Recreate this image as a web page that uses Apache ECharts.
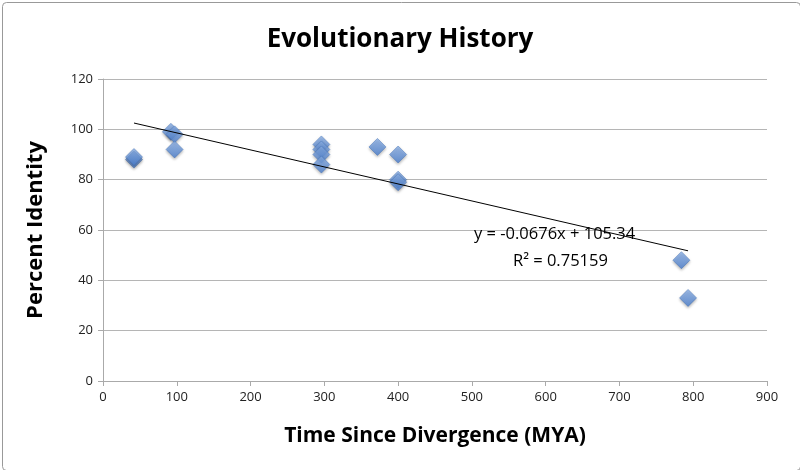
<!DOCTYPE html>
<html><head><meta charset="utf-8">
<script src="https://cdn.jsdelivr.net/npm/echarts@6/dist/echarts.min.js"></script>
<style>html,body{margin:0;padding:0;background:#fff}#c{width:800px;height:470px}</style>
</head><body><div id="c"></div>
<script>
var timeMYA = [42, 42, 92, 97, 97, 296, 296, 296, 296, 372, 400, 400, 400, 784, 793];
var percentIdentity = [88, 89, 99, 98, 92, 94, 92, 90, 86, 93, 90, 80, 79, 48, 33];
var trendSlope = -0.0676, trendIntercept = 105.34, rSquared = 0.75159;
var xTicks = [0, 100, 200, 300, 400, 500, 600, 700, 800, 900];
var yTicks = [0, 20, 40, 60, 80, 100, 120];

var pts = timeMYA.map(function(x, i){ return [x, percentIdentity[i]]; });
var xmin = Math.min.apply(null, timeMYA), xmax = Math.max.apply(null, timeMYA);
var trend = [[xmin, trendSlope*xmin + trendIntercept], [xmax, trendSlope*xmax + trendIntercept]];
var FONT = '"Open Sans", "Liberation Sans", sans-serif';
var chart = echarts.init(document.getElementById('c'), null, {renderer:'canvas'});
chart.setOption({
  animation:false,
  title:{text:'Evolutionary History', left:'center', top:22,
    textStyle:{fontFamily:FONT, fontSize:26, fontWeight:'bold', color:'#000'}},
  grid:{left:103, right:33, top:79, bottom:89},
  xAxis:{type:'value', min:0, max:900, interval:100,
    name:'Time Since Divergence (MYA)', nameLocation:'middle', nameGap:45,
    nameTextStyle:{fontFamily:FONT, fontSize:21, fontWeight:'bold', color:'#000'},
    axisLine:{show:true, lineStyle:{color:'#aaa', width:1}},
    axisTick:{show:true, length:5, lineStyle:{color:'#aaa'}},
    axisLabel:{fontFamily:FONT, fontSize:13, color:'#222', margin:10,
      formatter:function(v){ return xTicks.indexOf(v)>=0 ? String(v) : ''; }},
    splitLine:{show:false}},
  yAxis:{type:'value', min:0, max:120, interval:20,
    name:'Percent Identity', nameLocation:'middle', nameGap:56, nameRotate:90,
    nameTextStyle:{fontFamily:FONT, fontSize:22, fontWeight:'bold', color:'#000'},
    axisLine:{show:true, lineStyle:{color:'#aaa', width:1}},
    axisTick:{show:true, length:5, lineStyle:{color:'#aaa'}},
    axisLabel:{fontFamily:FONT, fontSize:13, color:'#222', margin:10,
      formatter:function(v){ return yTicks.indexOf(v)>=0 ? String(v) : ''; }},
    splitLine:{show:true, lineStyle:{color:'#b5b5b5', width:1}}},
  series:[
    {type:'line', data:trend, symbol:'none', silent:true, z:3,
     lineStyle:{color:'#000', width:1}},
    {type:'scatter', data:pts, symbol:'diamond', symbolSize:[17,17], z:2,
     itemStyle:{
       color:new echarts.graphic.LinearGradient(0,0,0,1,[{offset:0,color:'#8fb4ea'},{offset:1,color:'#4a7fd0'}]),
       borderColor:'#3f6fb8', borderWidth:0.6,
       shadowColor:'rgba(0,0,0,0.35)', shadowBlur:3, shadowOffsetY:1.5}}
  ],
  graphic:[
    {type:'rect', left:0, top:0, shape:{x:0.5,y:0.5,width:798,height:468, r:4}, style:{fill:'none', stroke:'#999', lineWidth:1}, silent:true},
    {type:'text', left:474, top:226, z:10, style:{text:'y = -0.0676x + 105.34', fontFamily:FONT, fontSize:16.5, fill:'#000'}},
    {type:'text', left:513, top:253, z:10, style:{text:'R\u00b2 = ' + rSquared, fontFamily:FONT, fontSize:16.5, fill:'#000'}}
  ]
});
</script></body></html>
